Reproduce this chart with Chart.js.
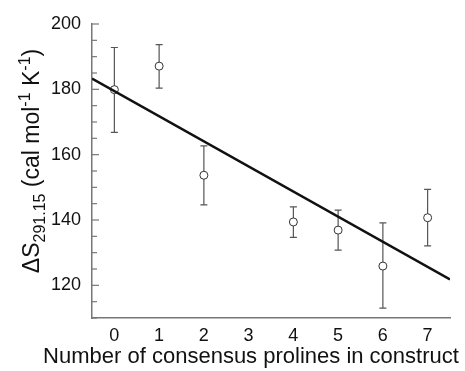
<!DOCTYPE html>
<html>
<head>
<meta charset="utf-8">
<script src="https://cdn.jsdelivr.net/npm/chart.js@4.4.1/dist/chart.umd.min.js"></script>
<style>
  body { margin: 0; background: #fff; }
  canvas { display: block; }
</style>
</head>
<body>
<canvas id="entropyChart" width="465" height="371"></canvas>
<script>
// number of consensus prolines, measured entropy and its error range
const prolineCounts = [0, 1, 2, 4, 5, 6, 7]
const entropyValues = [179.9, 187.1, 153.7, 139.4, 136.9, 125.9, 140.7]
const errorLow = [166.8, 180.4, 144.6, 134.7, 130.8, 113.0, 132.1]
const errorHigh = [192.8, 193.7, 162.7, 144.0, 143.0, 139.1, 149.4]

// linear fit through the points
const fitX = [-0.5, 7.5]
const fitY = [183.3, 121.8]

const xTickValues = [0, 1, 2, 3, 4, 5, 6, 7]
const yLabelValues = [120, 140, 160, 180, 200]

const FONT = "'Liberation Sans', Arial, Helvetica, sans-serif"

const errorBars = {
  id: "errorBars",
  beforeDatasetsDraw(chart) {
    var ctx = chart.ctx
    var xs = chart.scales.x
    var ys = chart.scales.y
    ctx.save()
    ctx.strokeStyle = "#555"
    ctx.lineWidth = 1.2
    prolineCounts.forEach((count, i) => {
      var px = xs.getPixelForValue(count)
      var top = ys.getPixelForValue(errorHigh[i])
      var bottom = ys.getPixelForValue(errorLow[i])
      ctx.beginPath()
      ctx.moveTo(px, top)
      ctx.lineTo(px, bottom)
      ctx.moveTo(px - 3.5, top)
      ctx.lineTo(px + 3.5, top)
      ctx.moveTo(px - 3.5, bottom)
      ctx.lineTo(px + 3.5, bottom)
      ctx.stroke()
    })
    ctx.restore()
  }
}

const innerTicks = {
  id: "innerTicks",
  beforeDatasetsDraw(chart) {
    var ctx = chart.ctx
    var ys = chart.scales.y
    var left = chart.chartArea.left
    ctx.save()
    ctx.strokeStyle = "#777"
    ctx.lineWidth = 1.2
    ys.ticks.forEach(t => {
      var py = ys.getPixelForValue(t.value)
      var len = yLabelValues.includes(t.value) ? 7 : 5
      ctx.beginPath()
      ctx.moveTo(left, py)
      ctx.lineTo(left + len, py)
      ctx.stroke()
    })
    ctx.restore()
  }
}

const axisTitles = {
  id: "axisTitles",
  afterDraw(chart) {
    var ctx = chart.ctx
    ctx.save()
    ctx.fillStyle = "#111"
    ctx.textBaseline = "alphabetic"

    // x title
    ctx.font = "22px " + FONT
    ctx.textAlign = "center"
    ctx.fillText("Number of consensus prolines in construct", 251, 363)

    // y title with subscript and superscripts, rotated
    var parts = [
      { text: "\u0394S", size: 23, shift: 0 },
      { text: "291.15", size: 16, shift: 6 },
      { text: " (cal mol", size: 23, shift: 0 },
      { text: "-1", size: 16, shift: -9 },
      { text: " K", size: 23, shift: 0 },
      { text: "-1", size: 16, shift: -9 },
      { text: ")", size: 23, shift: 0 }
    ]
    var total = 0
    parts.forEach(p => {
      ctx.font = p.size + "px " + FONT
      p.width = ctx.measureText(p.text).width
      total += p.width
    })
    ctx.translate(39, 161)
    ctx.rotate(-Math.PI / 2)
    ctx.textAlign = "left"
    var pos = -total / 2
    parts.forEach(p => {
      ctx.font = p.size + "px " + FONT
      ctx.fillText(p.text, pos, p.shift)
      pos += p.width
    })
    ctx.restore()
  }
}

var ctx = document.getElementById("entropyChart").getContext("2d")
var chart = new Chart(ctx, {
  type: "scatter",
  data: {
    datasets: [
      {
        data: fitX.map((x, i) => ({ x: x, y: fitY[i] })),
        showLine: true,
        borderColor: "#111",
        borderWidth: 2.6,
        pointRadius: 0,
        order: 0
      },
      {
        data: prolineCounts.map((c, i) => ({ x: c, y: entropyValues[i] })),
        pointStyle: "circle",
        pointRadius: 4,
        borderColor: "#333",
        backgroundColor: "#fff",
        borderWidth: 1,
        order: 1
      }
    ]
  },
  options: {
    responsive: false,
    animation: false,
    layout: { padding: { top: 24, right: 15, left: 0, bottom: 0 } },
    plugins: {
      legend: { display: false },
      tooltip: { enabled: false }
    },
    scales: {
      x: {
        type: "linear",
        min: -0.5,
        max: 7.5,
        afterBuildTicks(scale) {
          scale.ticks = xTickValues.map(v => ({ value: v }))
        },
        afterFit(scale) { scale.height = 53 },
        grid: { drawOnChartArea: false, drawTicks: false },
        border: { display: true, color: "#777", width: 1.5 },
        ticks: {
          autoSkip: false,
          maxRotation: 0,
          padding: 7,
          color: "#111",
          font: { family: FONT, size: 18 }
        }
      },
      y: {
        min: 110,
        max: 200,
        afterFit(scale) { scale.width = 92 },
        grid: { drawOnChartArea: false, drawTicks: false },
        border: { display: true, color: "#777", width: 1.5 },
        ticks: {
          stepSize: 5,
          autoSkip: false,
          padding: 11,
          color: "#111",
          font: { family: FONT, size: 18 },
          callback: v => yLabelValues.includes(v) ? v : ""
        }
      }
    }
  },
  plugins: [errorBars, innerTicks, axisTitles]
})
</script>
</body>
</html>
